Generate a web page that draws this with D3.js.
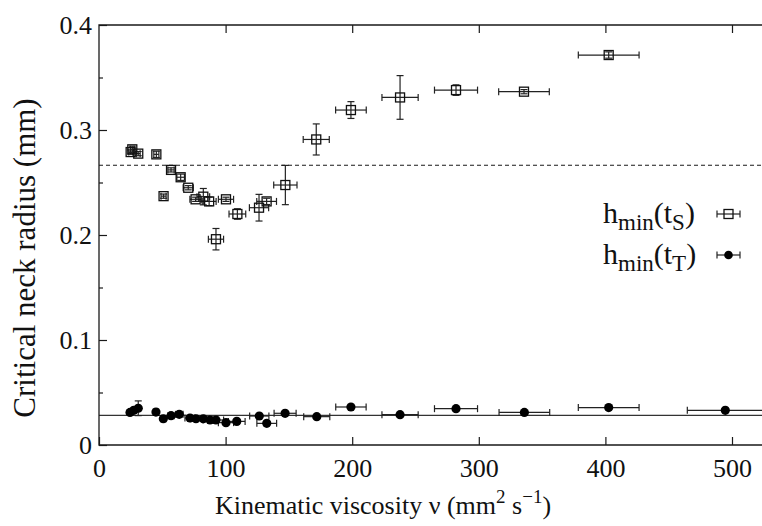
<!DOCTYPE html>
<html><head><meta charset="utf-8">
<script src="https://cdn.jsdelivr.net/npm/d3@7"></script>
<style>
html,body{margin:0;padding:0;background:#fff;}
svg{display:block;}
text{font-family:"Liberation Serif","Times New Roman",serif;fill:#111;}
</style></head>
<body>
<svg id="chart" width="762" height="526"></svg>
<script>
// h_min(t_S) : squares
const sNu    = [25, 26.3, 31, 45.3, 51, 56.9, 64.5, 70.5, 76.3, 82.4, 87, 92.4, 100.3, 109.3, 126.4, 132.4, 147.2, 171.6, 199, 237.8, 282, 335.7, 402.6];
const sH     = [0.279, 0.2816, 0.2775, 0.2768, 0.237, 0.262, 0.255, 0.245, 0.234, 0.2365, 0.232, 0.196, 0.234, 0.22, 0.226, 0.232, 0.2476, 0.291, 0.319, 0.331, 0.338, 0.3365, 0.3714];
const sNuErr = [1.5, 1.5, 1.5, 2, 2, 2.5, 3, 4, 4.5, 5, 5.5, 6, 6, 6.6, 7.6, 7.8, 9.2, 10.3, 12.1, 14.3, 17, 20, 24];
const sHErr  = [0.002, 0.003, 0.002, 0.003, 0.002, 0.002, 0.003, 0.002, 0.002, 0.0078, 0.004, 0.0102, 0.002, 0.005, 0.0127, 0.003, 0.0187, 0.0148, 0.008, 0.0208, 0.005, 0.002, 0.003];
// h_min(t_T) : filled circles
const tNu    = [24.5, 27.5, 31, 45, 50.8, 56.9, 63.4, 71.9, 76.6, 82.4, 87.7, 92.4, 100.3, 108.8, 126.6, 132.5, 147, 172, 199, 237.8, 282, 336, 402.6, 494.7];
const tH     = [0.031, 0.033, 0.035, 0.0314, 0.025, 0.0279, 0.0292, 0.0257, 0.025, 0.025, 0.0238, 0.0238, 0.0213, 0.0225, 0.0276, 0.0206, 0.0302, 0.027, 0.0362, 0.0289, 0.0346, 0.031, 0.0356, 0.033];
const tNuErr = [1.5, 1.5, 1.5, 2, 2, 2.5, 3, 4, 4.5, 5, 5.5, 6, 6, 6.6, 7.6, 7.8, 8.7, 10.3, 12, 14.3, 17, 20, 24, 30];
const tHErr  = [0.002, 0.002, 0.007, 0.001, 0.001, 0.001, 0.001, 0.001, 0.001, 0.001, 0.001, 0.001, 0.001, 0.001, 0.001, 0.001, 0.001, 0.001, 0.001, 0.001, 0.001, 0.001, 0.001, 0.001];
// reference levels
const dashedLevel = 0.2665;
const solidLevel = 0.0283;
const xTicks = [0, 100, 200, 300, 400, 500];
const yTicks = [0, 0.1, 0.2, 0.3, 0.4];
const yMinor = [0.05, 0.15, 0.25, 0.35];
const xTitle = "Kinematic viscosity ν (mm";
const yTitle = "Critical neck radius (mm)";

const svg = d3.select("#chart");
const L = 99, T = 25, B = 445, R = 762;
const x = d3.scaleLinear().domain([0, 500]).range([L, 732]);
const y = d3.scaleLinear().domain([0, 0.4]).range([B, T]);
const xMax = x.invert(R + 2);

const ink = "#1a1a1a";
const g = svg.append("g");

// reference lines
g.append("line").attr("x1", x(0)).attr("x2", x(xMax)).attr("y1", y(dashedLevel)).attr("y2", y(dashedLevel))
  .attr("stroke", ink).attr("stroke-width", 1.1).attr("stroke-dasharray", "4,3");
g.append("line").attr("x1", x(0)).attr("x2", x(xMax)).attr("y1", y(solidLevel)).attr("y2", y(solidLevel))
  .attr("stroke", "#333").attr("stroke-width", 1.3);

// axes
const fs = 26;
const axB = d3.axisBottom(x).tickValues(xTicks).tickSize(-8).tickPadding(12).tickFormat(d3.format("d"));
const axT = d3.axisTop(x).tickValues(xTicks.filter(d => d > 0)).tickSize(-8).tickFormat("");
const axL = d3.axisLeft(y).tickValues(yTicks).tickSize(-8).tickPadding(7).tickFormat(d => d === 0 ? "0" : d3.format(".1f")(d));
const axLm = d3.axisLeft(y).tickValues(yMinor).tickSize(-4).tickFormat("");

function styleAxis(sel) {
  sel.select(".domain").remove();
  sel.selectAll("line").attr("stroke", ink).attr("stroke-width", 1.2);
  sel.selectAll("text").attr("font-size", fs).attr("font-family", "Liberation Serif, serif").attr("fill", "#111");
}
svg.append("g").attr("transform", `translate(0,${B})`).call(axB).call(styleAxis)
  .selectAll("text").attr("dy", "0.75em");
svg.append("g").attr("transform", `translate(0,${T})`).call(axT).call(styleAxis);
svg.append("g").attr("transform", `translate(${L},0)`).call(axL).call(styleAxis)
  .selectAll("text").attr("dy", "0.33em");
svg.append("g").attr("transform", `translate(${L},0)`).call(axLm).call(styleAxis);

// frame
svg.append("path").attr("d", `M${R + 2},${T}H${L}V${B}H${R + 2}`).attr("fill", "none").attr("stroke", ink).attr("stroke-width", 1.3);

// error bar helper
function errorBars(nu, h, nuErr, hErr) {
  const gg = svg.append("g").attr("stroke", "#222").attr("stroke-width", 1.2).attr("fill", "none");
  nu.forEach((v, i) => {
    const cx = x(v), cy = y(h[i]);
    const x1 = x(v - nuErr[i]), x2 = x(v + nuErr[i]);
    const y1 = y(h[i] - hErr[i]), y2 = y(h[i] + hErr[i]);
    gg.append("line").attr("x1", x1).attr("x2", x2).attr("y1", cy).attr("y2", cy);
    gg.append("line").attr("x1", x1).attr("x2", x1).attr("y1", cy - 3.5).attr("y2", cy + 3.5);
    gg.append("line").attr("x1", x2).attr("x2", x2).attr("y1", cy - 3.5).attr("y2", cy + 3.5);
    gg.append("line").attr("x1", cx).attr("x2", cx).attr("y1", y1).attr("y2", y2);
    gg.append("line").attr("x1", cx - 3.5).attr("x2", cx + 3.5).attr("y1", y1).attr("y2", y1);
    gg.append("line").attr("x1", cx - 3.5).attr("x2", cx + 3.5).attr("y1", y2).attr("y2", y2);
  });
}

errorBars(sNu, sH, sNuErr, sHErr);
svg.append("g").selectAll("rect").data(sNu).join("rect")
  .attr("x", (d) => x(d) - 4.5).attr("y", (d, i) => y(sH[i]) - 4.5)
  .attr("width", 9).attr("height", 9)
  .attr("fill", "none").attr("stroke", "#111").attr("stroke-width", 1.3);

errorBars(tNu, tH, tNuErr, tHErr);
svg.append("g").selectAll("circle").data(tNu).join("circle")
  .attr("cx", (d) => x(d)).attr("cy", (d, i) => y(tH[i])).attr("r", 4.6)
  .attr("fill", "#000");

// legend
function legendEntry(yy, sub, marker) {
  const t = svg.append("text").attr("x", 603).attr("y", yy).attr("font-size", 30);
  t.append("tspan").text("h");
  t.append("tspan").attr("font-size", 23).attr("dy", 7).text("min");
  t.append("tspan").attr("dy", -7).text("(t");
  t.append("tspan").attr("font-size", 23).attr("dy", 7).text(sub);
  t.append("tspan").attr("dy", -7).text(")");
  const my = yy - 9;
  const lg = svg.append("g").attr("stroke", "#222").attr("stroke-width", 1.2);
  lg.append("line").attr("x1", 717).attr("x2", 740).attr("y1", my).attr("y2", my);
  lg.append("line").attr("x1", 717).attr("x2", 717).attr("y1", my - 3.5).attr("y2", my + 3.5);
  lg.append("line").attr("x1", 740).attr("x2", 740).attr("y1", my - 3.5).attr("y2", my + 3.5);
  if (marker === "square") {
    svg.append("rect").attr("x", 724).attr("y", my - 4.5).attr("width", 9).attr("height", 9)
      .attr("fill", "none").attr("stroke", "#111").attr("stroke-width", 1.3);
  } else {
    svg.append("circle").attr("cx", 728.5).attr("cy", my).attr("r", 4.3).attr("fill", "#000");
  }
}
legendEntry(223, "S", "square");
legendEntry(264, "T", "circle");

// axis titles
const xt = svg.append("text").attr("x", 383).attr("y", 514).attr("text-anchor", "middle").attr("font-size", 26);
xt.append("tspan").text(xTitle);
xt.append("tspan").attr("font-size", 19).attr("dy", -11).text("2");
xt.append("tspan").attr("dy", 11).text(" s");
xt.append("tspan").attr("font-size", 19).attr("dy", -11).text("−1");
xt.append("tspan").attr("dy", 11).text(")");

svg.append("text").attr("transform", "translate(35,258) rotate(-90)").attr("text-anchor", "middle")
  .attr("font-size", 31).text(yTitle);
</script>
</body></html>
